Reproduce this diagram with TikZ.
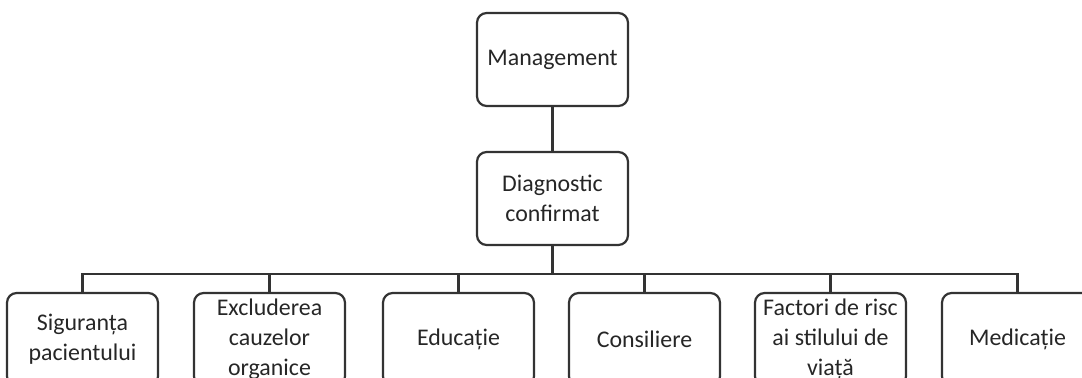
\documentclass[tikz,border=0pt]{standalone}
\usepackage{fontspec}
\setmainfont{Carlito}
\usepackage{tikz}

\begin{document}
\begin{tikzpicture}[
    x=0.02cm, y=-0.02cm,
    box/.style={draw=black!80,line width=1.25pt,rounded corners=5.5pt,minimum width=3.02cm,
      minimum height=1.86cm,inner sep=0pt,align=center,text=black!85,
      font=\fontsize{13.6}{17}\selectfont},
    link/.style={draw=black!80,line width=1.25pt}
    ]
    \useasboundingbox (0,0) rectangle (1082,378);
    \clip (0,0) rectangle (1082,378);
    \node[box] (mgmt) at (552.5,59.5) {Management};
    \node[box] (diag) at (552.5,198.5) {Diagnostic\\confirmat};
    \coordinate (bus) at (552.5,274);
    \node[box] (s1) at (82.5,339.5) {Siguranța\\pacientului};
    \node[box] (s2) at (269.5,339.5) {Excluderea\\cauzelor\\organice};
    \node[box] (s3) at (458.5,339.5) {Educație};
    \node[box] (s4) at (644.5,339.5) {Consiliere};
    \node[box] (s5) at (830.5,339.5) {Factori de risc\\ai stilului de\\viață};
    \node[box] (s6) at (1017.5,339.5) {Medicație};
    \draw[link] (mgmt) -- (diag);
    \draw[link] (diag.south) -- (bus);
    \draw[link] (s1.north) |- (bus) -| (s6.north);
    \foreach \n in {2,...,5}
      \draw[link] (s\n.north) -- (s\n.north |- bus);
  \end{tikzpicture}
\end{document}
